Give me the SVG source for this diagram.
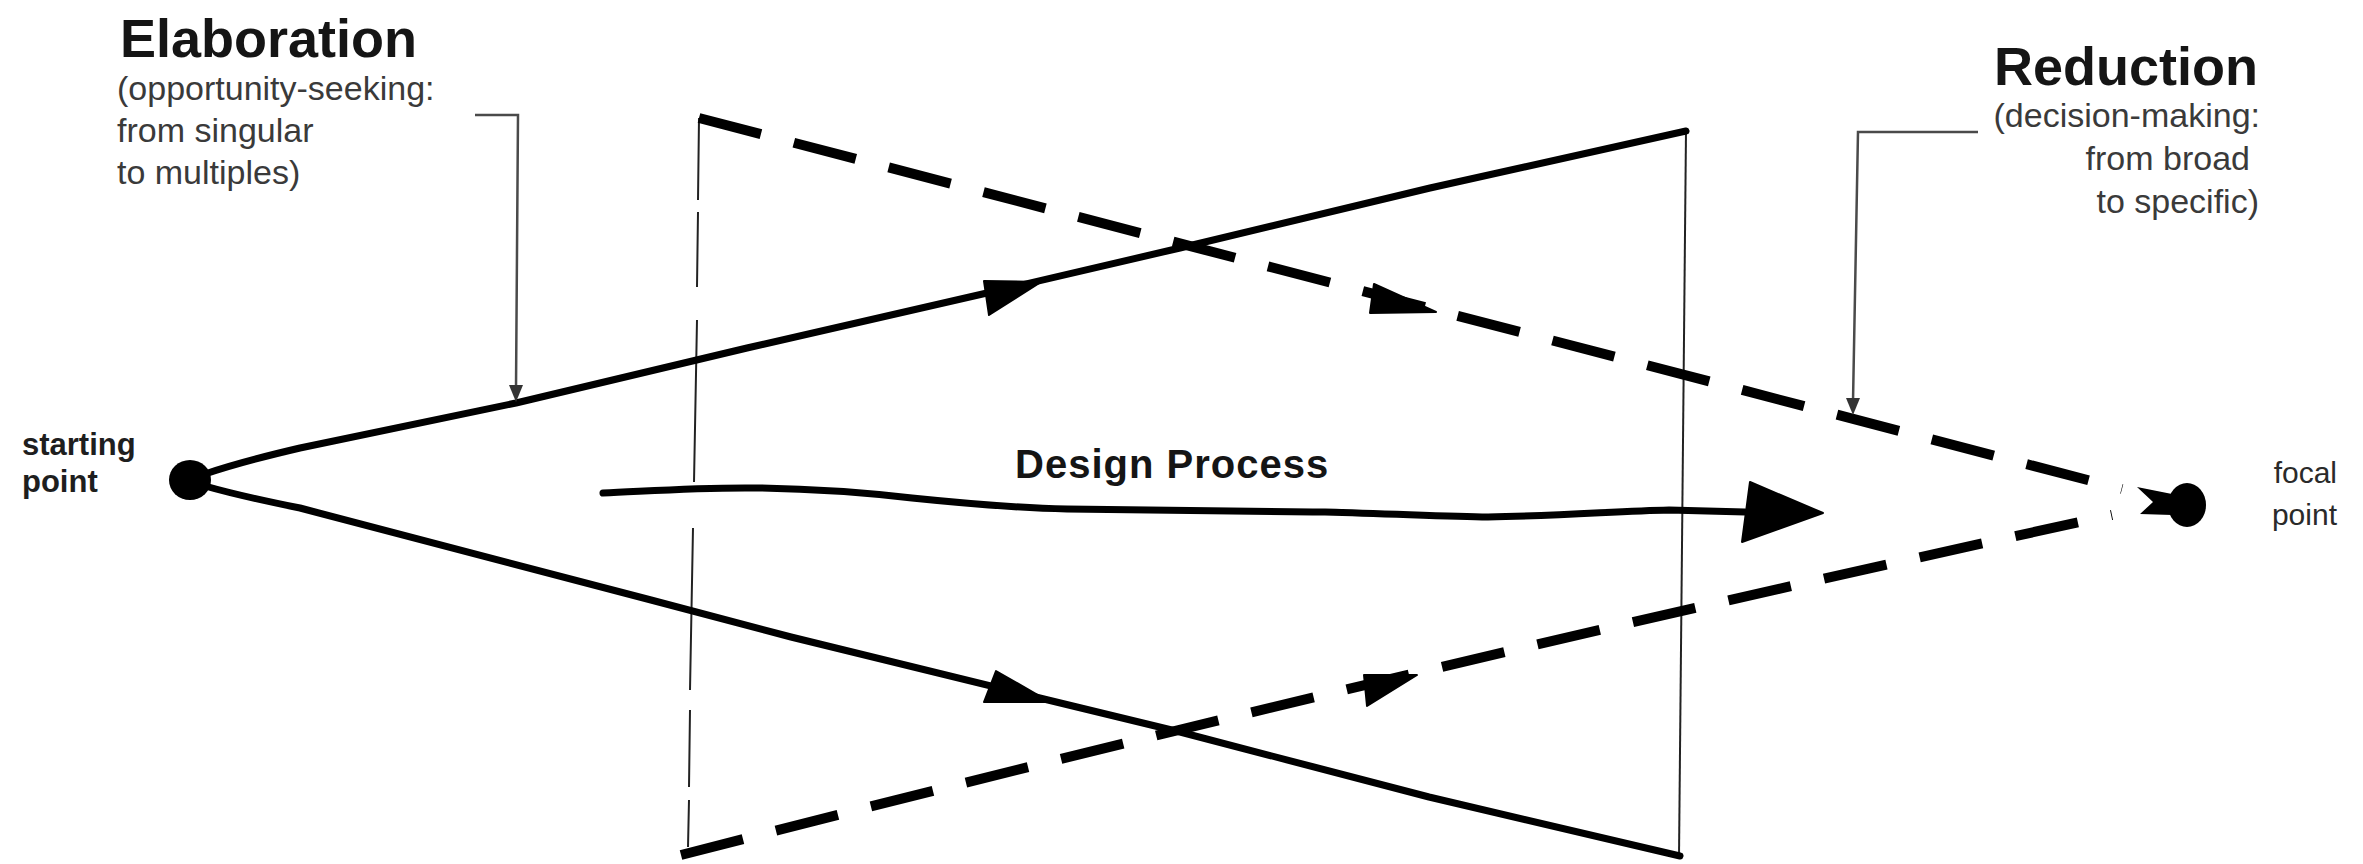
<svg xmlns="http://www.w3.org/2000/svg" width="2363" height="864" viewBox="0 0 2363 864">
<style>
.title{font-family:"Liberation Sans",Arial,sans-serif;font-weight:bold;font-size:54px;fill:#151515}
.sub{font-family:"Liberation Sans",Arial,sans-serif;font-size:34px;fill:#3a3a3a}
.lbl{font-family:"Liberation Sans",Arial,sans-serif;font-weight:bold;font-size:31px;fill:#1e1e1e}
.lblr{font-family:"Liberation Sans",Arial,sans-serif;font-size:30px;fill:#2a2a2a}
.dp{font-family:"Liberation Sans",Arial,sans-serif;font-weight:bold;font-size:40px;fill:#151515;letter-spacing:1px}
.solid{fill:none;stroke:#000;stroke-width:7;stroke-linecap:round;stroke-linejoin:round}
.dash{fill:none;stroke:#000;stroke-width:10;stroke-dasharray:64 34}
.thin{fill:none;stroke:#222;stroke-width:2}
.leader{fill:none;stroke:#4a4a4a;stroke-width:2.5}
.head{fill:#000;stroke:#000;stroke-width:2;stroke-linejoin:round}
.lhead{fill:#333}
</style>
<rect width="2363" height="864" fill="#fff"/>

<g id="elaboration-label">
<text class="title" x="120" y="57">Elaboration</text>
<text class="sub" x="117" y="100">(opportunity-seeking:</text>
<text class="sub" x="117" y="142">from singular</text>
<text class="sub" x="117" y="184">to multiples)</text>
</g>

<g id="reduction-label">
<text class="title" x="2258" y="85" text-anchor="end">Reduction</text>
<text class="sub" x="2260" y="127" text-anchor="end">(decision-making:</text>
<text class="sub" x="2250" y="170" text-anchor="end">from broad</text>
<text class="sub" x="2259" y="213" text-anchor="end">to specific)</text>
</g>

<g id="starting-point">
<ellipse cx="190" cy="480" rx="21" ry="20" fill="#000"/>
<text class="lbl" x="22" y="455">starting</text>
<text class="lbl" x="22" y="492">point</text>
</g>

<g id="focal-point">
<ellipse cx="2187" cy="505" rx="19" ry="22" fill="#000"/>
<polygon points="2137,487 2172,494 2172,515 2140,514 2153,502" fill="#000"/>
<text class="lblr" x="2337" y="483" text-anchor="end">focal</text>
<text class="lblr" x="2337" y="525" text-anchor="end">point</text>
</g>

<g id="design-process-label">
<text class="dp" x="1015" y="478">Design Process</text>
</g>

<g id="connectors">
<!-- frame verticals -->
<path class="thin" d="M699,118 L698,200 M698,212 L697,287 M697,320 L694,482 M693,528 L690,690 M690,710 L689,787 M689,800 L688,847"/>
<path class="thin" d="M1686,131 L1679,856"/>

<!-- solid expansion lines -->
<path class="solid" d="M205,474 Q240,462 300,448 L516,403 L747,348 L1000,290 L1180,248 L1430,188 L1686,131"/>
<path class="solid" d="M205,486 Q240,496 300,508 L651,600 L791,637 L1048,700 L1180,732 L1429,797 L1680,856"/>
<polygon class="head" points="984,281 989,315 1041,282"/>
<polygon class="head" points="996,671 984,702 1050,702"/>

<!-- dashed reduction lines -->
<path class="dash" d="M699,118 L2122,489"/>
<path class="dash" d="M681,855 Q1393,671 2112,515"/>
<polygon class="head" points="1374,284 1370,313 1436,312"/>
<polygon class="head" points="1364,675 1367,706 1417,675"/>

<!-- design process arrow -->
<path class="solid" d="M603,493 C650,491 700,487 760,488 C820,489 860,492 912,498 C980,505 1020,508 1067,509 C1200,511 1260,512 1325,512 C1400,514 1450,517 1488,517 C1560,516 1620,511 1669,510 L1745,512"/>
<polygon class="head" points="1750,482 1742,542 1823,513"/>

<!-- leaders -->
<path class="leader" d="M475,115 H518 L516,388"/>
<polygon class="lhead" points="509,385 523,385 516,402"/>
<path class="leader" d="M1978,132 H1858 L1853,402"/>
<polygon class="lhead" points="1846,398 1860,398 1853,415"/>
</g>
</svg>
